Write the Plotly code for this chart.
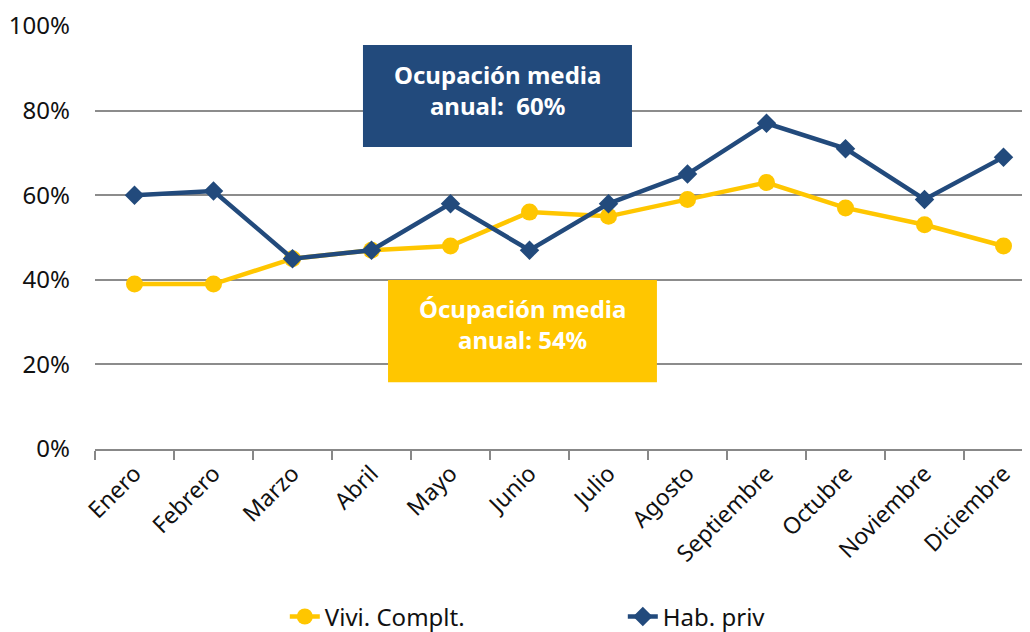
import plotly.graph_objects as go

meses = ["Enero", "Febrero", "Marzo", "Abril", "Mayo", "Junio", "Julio",
         "Agosto", "Septiembre", "Octubre", "Noviembre", "Diciembre"]
vivi_complt = [39, 39, 45, 47, 48, 56, 55, 59, 63, 57, 53, 48]
hab_priv = [60, 61, 45, 47, 58, 47, 58, 65, 77, 71, 59, 69]
y_ticks = [0, 20, 40, 60, 80, 100]
y_ticktext = ["0%", "20%", "40%", "60%", "80%", "100%"]

YELLOW = "#FFC600"
BLUE = "#224A7C"
FONT = "Noto Sans"

fig = go.Figure()
fig.add_trace(go.Scatter(
    x=meses, y=vivi_complt, name="Vivi. Complt.", mode="lines+markers",
    line=dict(color=YELLOW, width=4.5),
    marker=dict(symbol="circle", size=17, color=YELLOW),
))
fig.add_trace(go.Scatter(
    x=meses, y=hab_priv, name="Hab. priv", mode="lines+markers",
    line=dict(color=BLUE, width=4.5),
    marker=dict(symbol="diamond", size=15, color=BLUE),
))

# Callout boxes
fig.add_shape(type="rect", xref="paper", yref="paper",
              x0=0.2866, x1=0.5743, y0=0.714, y1=0.955,
              fillcolor=BLUE, line=dict(width=0), layer="above")
fig.add_shape(type="rect", xref="paper", yref="paper",
              x0=0.3134, x1=0.601, y0=0.158, y1=0.3995,
              fillcolor=YELLOW, line=dict(width=0), layer="above")
fig.add_annotation(
    xref="paper", yref="paper", x=0.4305, y=0.849, xanchor="center", yanchor="middle",
    text="<b>Ocupación media<br>anual:  60%</b>", showarrow=False,
    font=dict(family=FONT, size=24, color="white"), align="center",
)
fig.add_annotation(
    xref="paper", yref="paper", x=0.4572, y=0.2955, xanchor="center", yanchor="middle",
    text="<b>Ócupación media<br>anual: 54%</b>", showarrow=False,
    font=dict(family=FONT, size=24, color="white"), align="center",
)

fig.update_layout(
    width=1030, height=632,
    margin=dict(l=87, r=8, t=18, b=191, autoexpand=False),
    plot_bgcolor="white", paper_bgcolor="white",
    font=dict(family=FONT, size=20, color="#111111"),
    showlegend=True,
    legend=dict(orientation="h", x=0.203, y=-0.397, xanchor="left", yanchor="middle",
                entrywidth=293, entrywidthmode="pixels",
                font=dict(family=FONT, size=24, color="#111111")),
)
fig.update_xaxes(
    type="category", range=[-0.5, 11.335], automargin=False,
    tickangle=-45, tickson="boundaries", ticks="outside", ticklen=9,
    tickcolor="#888888", tickwidth=2, showline=True, linecolor="#888888", linewidth=2,
    showgrid=False, tickfont=dict(family=FONT, size=23, color="#111111"),
)
fig.update_yaxes(
    range=[0, 100], tickmode="array", tickvals=y_ticks, ticktext=y_ticktext,
    automargin=False, ticklabelstandoff=24,
    showgrid=True, gridcolor="#8c8c8c", gridwidth=1.5, zeroline=False,
    showline=False, ticks="",
    tickfont=dict(family=FONT, size=24, color="#111111"),
)

fig.write_html("out.html")
